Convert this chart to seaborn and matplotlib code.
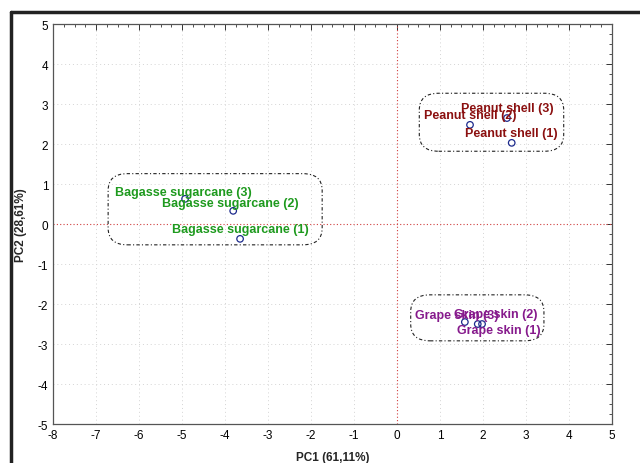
import pandas as pd
import matplotlib
matplotlib.use("Agg")
import matplotlib.pyplot as plt
import seaborn as sns
from matplotlib.patches import FancyBboxPatch
from matplotlib.ticker import MultipleLocator, AutoMinorLocator
from matplotlib.lines import Line2D

# --- data ---
samples = ['Peanut shell (1)', 'Peanut shell (2)', 'Peanut shell (3)',
           'Bagasse sugarcane (1)', 'Bagasse sugarcane (2)', 'Bagasse sugarcane (3)',
           'Grape skin (1)', 'Grape skin (2)', 'Grape skin (3)']
groups = ['Peanut shell'] * 3 + ['Bagasse sugarcane'] * 3 + ['Grape skin'] * 3
pc1 = [2.67, 1.70, 2.56, -3.65, -3.81, -4.93, 1.88, 1.98, 1.58]
pc2 = [2.03, 2.48, 2.65, -0.37, 0.33, 0.63, -2.50, -2.50, -2.45]

# label offsets (points) relative to each point
label_dx = [0, 0, 0, 0, -2, -1, 15, 10, -6]
label_dy = [7, 7, 7, 7, 6, 5, -4, 7, 5]

group_colors = {'Peanut shell': '#8b1010', 'Bagasse sugarcane': '#1e9a1e', 'Grape skin': '#861a8c'}

# cluster outlines (x0, y0, width, height)
clusters = {'Peanut shell': (0.52, 1.82, 3.36, 1.45),
            'Bagasse sugarcane': (-6.72, -0.52, 4.98, 1.78),
            'Grape skin': (0.32, -2.92, 3.1, 1.15)}

df = pd.DataFrame({'sample': samples, 'group': groups, 'PC1': pc1, 'PC2': pc2})

sns.set_style('white')
plt.rcParams['font.family'] = ['Liberation Sans', 'DejaVu Sans']
plt.rcParams['axes.unicode_minus'] = False

fig = plt.figure(figsize=(6.4, 4.64), dpi=100)
ax = fig.add_axes([0.083, 0.084, 0.873, 0.862])

# grid and zero lines
for v in range(-7, 5):
    if v != 0:
        ax.axvline(v, color='#d4d4d4', lw=0.7, ls=(0, (1, 3)), zorder=0)
for v in range(-4, 5):
    if v != 0:
        ax.axhline(v, color='#d4d4d4', lw=0.7, ls=(0, (1, 3)), zorder=0)
ax.axvline(0, color='#d04040', lw=0.8, ls=(0, (1, 2)), zorder=1)
ax.axhline(0, color='#d04040', lw=0.8, ls=(0, (1, 2)), zorder=1)

sns.scatterplot(data=df, x='PC1', y='PC2', ax=ax, marker='o', s=22,
                facecolor='none', edgecolor='#1c2a8c', linewidth=0.9, zorder=3)

for i, row in df.iterrows():
    ax.annotate(row['sample'], (row['PC1'], row['PC2']),
                xytext=(label_dx[i], label_dy[i]), textcoords='offset points',
                ha='center', va='center', fontsize=9, fontweight='bold',
                color=group_colors[row['group']], zorder=4)

for g, (x0, y0, w, h) in clusters.items():
    box = FancyBboxPatch((x0, y0), w, h, boxstyle='round,pad=0,rounding_size=0.45',
                         mutation_aspect=0.93, fill=False, edgecolor='#222222',
                         lw=0.8, ls=(0, (3, 2, 1, 2)), zorder=2)
    ax.add_patch(box)

ax.set_xlim(-8, 5)
ax.set_ylim(-5, 5)
ax.xaxis.set_major_locator(MultipleLocator(1))
ax.yaxis.set_major_locator(MultipleLocator(1))
ax.xaxis.set_minor_locator(AutoMinorLocator(4))
ax.yaxis.set_minor_locator(AutoMinorLocator(4))
ax.tick_params(which='both', direction='in', top=True, right=True,
               colors='#333333', labelcolor='black', labelsize=8.5)
ax.tick_params(which='major', length=4, width=0.7)
ax.tick_params(which='minor', length=2, width=0.6)
for s in ax.spines.values():
    s.set_color('#555555')
    s.set_linewidth(0.9)

ax.set_xlabel('PC1 (61,11%)', fontsize=8.5, fontweight='bold', labelpad=7)
ax.set_ylabel('PC2 (28,61%)', fontsize=8.5, fontweight='bold', labelpad=8)

# screenshot frame at left and top
fig.add_artist(Line2D([0.017, 0.017], [0, 0.972], color='#222222', lw=2.5))
fig.add_artist(Line2D([0.017, 1.0], [0.972, 0.972], color='#222222', lw=2.5))

fig.savefig('out.png', dpi=100)
